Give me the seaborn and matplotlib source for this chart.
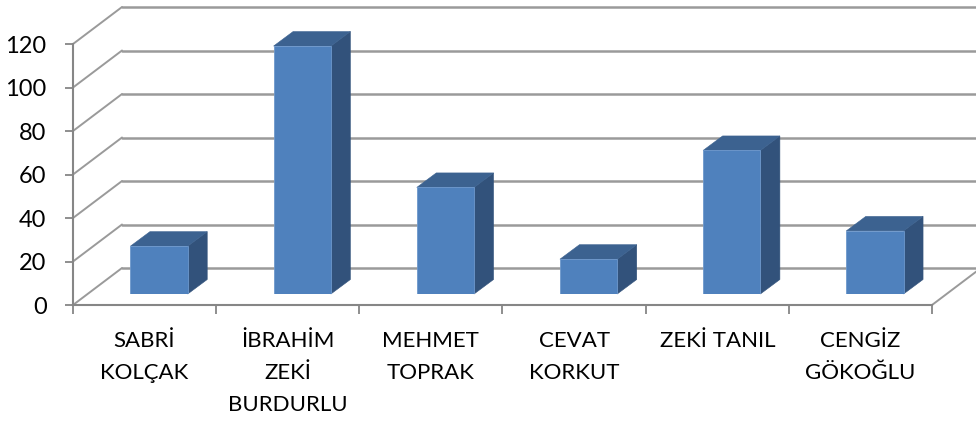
import matplotlib
matplotlib.use('Agg')
import matplotlib.pyplot as plt
import seaborn as sns
from matplotlib.patches import Polygon

# Datos
names = ['SABRİ\nKOLÇAK', 'İBRAHİM\nZEKİ\nBURDURLU', 'MEHMET\nTOPRAK',
         'CEVAT\nKORKUT', 'ZEKİ TANIL', 'CENGİZ\nGÖKOĞLU']
values = [22, 114, 49, 16, 66, 29]
y_ticks = [0, 20, 40, 60, 80, 100, 120]

W, H = 976, 421
LEFT, RIGHT, BASE, TOP = 73, 932, 305, 44
BAR_SHIFT_X, BAR_SHIFT_Y = 14.5, 11
GRID = '#9a9a9a'
AXIS = '#868686'
FRONT, SIDE, ROOF = '#4f81bd', '#32527b', '#3c6290'

sns.set_theme(style='white')
plt.rcParams['font.family'] = ['Lato', 'DejaVu Sans']

fig = plt.figure(figsize=(W / 100, H / 100), dpi=100)
rect = [LEFT / W, (H - BASE) / H, (RIGHT - LEFT) / W, (BASE - TOP) / H]
ax = fig.add_axes(rect)

# un px en unidades de datos
ux = 6 / (RIGHT - LEFT)
uy = 120 / (BASE - TOP)
dx, dy = 49 * ux, 37 * uy

ax.set_xlim(-0.5, 5.5)
ax.set_ylim(0, 120)

# paredes: lineas de fondo y diagonales
for v in y_ticks:
    ax.plot([-0.5 + dx, 5.5 + dx], [v + dy, v + dy], color=GRID, lw=1.8, clip_on=False, zorder=1)
    ax.plot([-0.5, -0.5 + dx], [v, v + dy], color=GRID, lw=1.4, clip_on=False, zorder=1)
ax.plot([5.5, 5.5 + dx], [0, dy], color=GRID, lw=1.4, clip_on=False, zorder=1)

sns.despine(ax=ax, top=True, right=True)
for s in ['left', 'bottom']:
    ax.spines[s].set_color(AXIS)
    ax.spines[s].set_linewidth(1.5)
ax.set_yticks(y_ticks)
ax.set_xticks(range(6))
ax.set_xticklabels(names, linespacing=1.76)
ax.set_xticks([i - 0.5 for i in range(7)], minor=True)
ax.tick_params(axis='x', which='major', length=0, pad=18.5, labelsize=16, colors='black')
ax.tick_params(axis='x', which='minor', bottom=True, length=6.5, width=1.3, color=AXIS)
ax.tick_params(axis='y', left=True, length=6, width=1.3, color=AXIS, pad=13, labelsize=17, labelcolor='black')

# barras en un segundo eje, desplazado hacia el fondo
ax2 = fig.add_axes([(LEFT + BAR_SHIFT_X) / W, (H - BASE + BAR_SHIFT_Y) / H,
                    (RIGHT - LEFT) / W, (BASE - TOP) / H])
ax2.patch.set_visible(False)
sns.barplot(x=list(range(6)), y=values, color=FRONT, saturation=1, width=0.4,
            edgecolor='#6d98cc', linewidth=0.6, ax=ax2, zorder=3)
ax2.set_xlim(-0.5, 5.5)
ax2.set_ylim(0, 120)
ax2.axis('off')

ddx, ddy = 19.5 * ux, 14.5 * uy
for bar in list(ax2.patches):
    x0, w, h = bar.get_x(), bar.get_width(), bar.get_height()
    x1 = x0 + w
    ax2.add_patch(Polygon([(x1, 0), (x1 + ddx, ddy), (x1 + ddx, h + ddy), (x1, h)],
                          facecolor=SIDE, edgecolor=SIDE, lw=0.4, clip_on=False, zorder=2))
    ax2.add_patch(Polygon([(x0, h), (x0 + ddx, h + ddy), (x1 + ddx, h + ddy), (x1, h)],
                          facecolor=ROOF, edgecolor=ROOF, lw=0.4, clip_on=False, zorder=2))

fig.savefig('out.png', dpi=100, facecolor='white')
